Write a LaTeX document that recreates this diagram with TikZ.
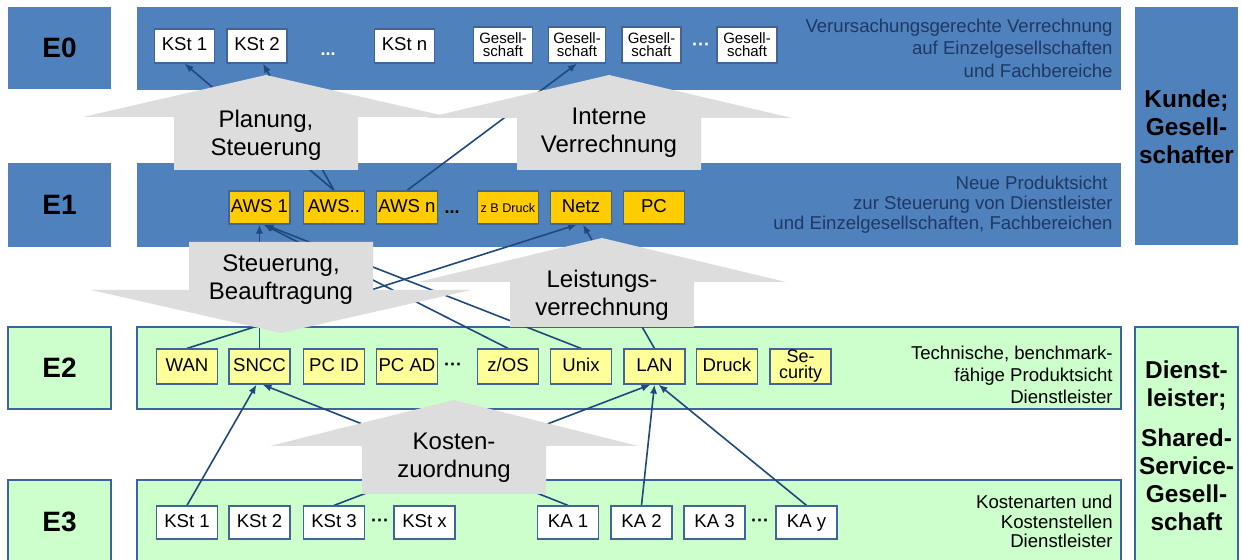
\documentclass[tikz,border=0pt]{standalone}
\usepackage{fontspec}
\setmainfont{Liberation Sans}
\usetikzlibrary{arrows.meta}
\pgfdeclarelayer{bg}
\pgfdeclarelayer{lines}
\pgfdeclarelayer{arrows}
\pgfsetlayers{bg,lines,arrows,main}
\definecolor{bandblue}{HTML}{4F81BD}
\definecolor{navy}{HTML}{1F3864}
\definecolor{lgreen}{HTML}{CCFFCC}
\definecolor{gborder}{HTML}{3C64A0}
\definecolor{boxborder}{HTML}{41649B}
\definecolor{gold}{HTML}{FFCC00}
\definecolor{lyellow}{HTML}{FFFF99}
\definecolor{arrowgrey}{HTML}{DDDDDD}
\definecolor{connblue}{HTML}{1F497D}
\begin{document}
\begin{tikzpicture}[x=0.5pt,y=-0.5pt,
  band/.style={fill=bandblue},
  gband/.style={fill=lgreen,draw=gborder,line width=0.9pt},
  lbl/.style={font=\bfseries\fontsize{14}{16}\selectfont,inner sep=0pt,minimum width=51.5pt},
  rlab/.style={font=\bfseries\fontsize{12.2}{14}\selectfont,align=center,inner sep=0pt},
  bx/.style={draw=boxborder,line width=0.6pt,minimum width=30.5pt,minimum height=17pt,inner sep=0pt,
    font=\fontsize{9.3}{10}\selectfont,text height=6.6pt,text depth=1.9pt},
  wbox/.style={bx,fill=white},
  ybox/.style={bx,fill=gold,minimum height=16.5pt},
  lybox/.style={bx,fill=lyellow,minimum height=17.5pt},
  two/.style={align=center,text height=,text depth=},
  dotsn/.style={font=\bfseries\fontsize{9}{10}\selectfont,inner sep=0pt,text height=6.5pt,text depth=1.9pt},
  conn/.style={draw=connblue,line width=0.8pt,-{Latex[length=4.5pt,width=3.6pt]}},
  garrow/.style={fill=arrowgrey},
  gtext/.style={font=\fontsize{12}{14}\selectfont,align=center,inner sep=0pt},
  desc/.style={anchor=east,align=right,inner sep=0pt,font=\fontsize{9.3}{11.2}\selectfont}]
\useasboundingbox (0,0) rectangle (1242,560);

% ---------- bands ----------
\begin{pgfonlayer}{bg}
\fill[white] (0,0) rectangle (1242,560);
\path[band] (8,7) rectangle (111,89);
\path[band] (8,163) rectangle (111,247);
\path[gband] (8,327) rectangle (111,409);
\path[gband] (8,480) rectangle (111,566);
\path[band] (137,7) rectangle (1121,90);
\path[band] (137,163) rectangle (1121,247);
\path[gband] (137,327) rectangle (1121,409);
\path[gband] (137,480) rectangle (1121,566);
\path[band] (1135,7) rectangle (1238,245);
\path[gband] (1135,327) rectangle (1238,566);
\end{pgfonlayer}

\node[lbl] (e0) at (59.5,48) {E0};
\node[lbl] (e1) at (59.5,205) {E1};
\node[lbl] (e2) at (59.5,368) {E2};
\node[lbl] (e3) at (59.5,522) {E3};

\node[rlab] (kunde) at (1186.5,127) {Kunde;\\Gesell-\\schafter};
\node[rlab] (dl1) at (1186.5,386) {Dienst-\\leister;};
\node[rlab] (dl2) at (1186.5,480) {Shared-\\Service-\\Gesell-\\schaft};

% ---------- descriptions ----------
\node[desc,text=navy] (d0) at (1113,48) {Verursachungsgerechte Verrechnung\\auf Einzelgesellschaften\\und Fachbereiche};
\node[desc,text=navy,font=\fontsize{9.3}{10}\selectfont] (d1) at (1113,205) {Neue Produktsicht\hspace*{2.5pt}\\zur Steuerung von Dienstleister\\und Einzelgesellschaften, Fachbereichen};
\node[desc,font=\fontsize{9.3}{11}\selectfont] (d2) at (1113,375) {Technische, benchmark-\\fähige Produktsicht\\Dienstleister};
\node[desc,font=\fontsize{9.3}{9.8}\selectfont] (d3) at (1113,521.5) {Kostenarten und\\Kostenstellen\\Dienstleister};

% ---------- E0 boxes ----------
\node[wbox,minimum width=30pt] (k01) at (184.5,46) {KSt 1};
\node[wbox,minimum width=30pt] (k02) at (257,46) {KSt 2};
\node[dotsn,text=white] (dd01) at (328,51) {...};
\node[wbox,minimum width=30pt] (k0n) at (404.5,46) {KSt n};
\node[wbox,two,minimum width=29.5pt,minimum height=18pt,font=\fontsize{7.5}{6.6}\selectfont] (g1) at (503,45) {Gesell-\\schaft};
\node[wbox,two,minimum width=28.5pt,minimum height=18pt,font=\fontsize{7.5}{6.6}\selectfont] (g2) at (577,45) {Gesell-\\schaft};
\node[wbox,two,minimum width=29.5pt,minimum height=18pt,font=\fontsize{7.5}{6.6}\selectfont] (g3) at (651.5,45) {Gesell-\\schaft};
\node[dotsn,text=white,text height=,text depth=] (dd02) at (701,47) {···};
\node[wbox,two,minimum width=30pt,minimum height=18pt,font=\fontsize{7.5}{6.6}\selectfont] (g4) at (747,45) {Gesell-\\schaft};

% ---------- E1 boxes ----------
\node[ybox] (aws1) at (259.5,207.5) {AWS 1};
\node[ybox] (aws2) at (334,207.5) {AWS..};
\node[ybox] (awsn) at (407,207.5) {AWS n};
\node[dotsn] (dd1) at (452,209) {...};
\node[ybox,font=\fontsize{6.3}{7}\selectfont] (zbd) at (508,207.5) {z B Druck};
\node[ybox] (netz) at (581,207.5) {Netz};
\node[ybox] (pc) at (654,207.5) {PC};

% ---------- E2 boxes ----------
\node[lybox] (wan) at (187,366.5) {WAN};
\node[lybox] (sncc) at (259.5,366.5) {SNCC};
\node[lybox] (pcid) at (334,366.5) {PC ID};
\node[lybox] (pcad) at (407,366.5) {PC AD};
\node[dotsn,text height=,text depth=] (dd2) at (453,366.5) {···};
\node[lybox] (zos) at (508,366.5) {z/OS};
\node[lybox] (unix) at (581,366.5) {Unix};
\node[lybox] (lan) at (654.5,366.5) {LAN};
\node[lybox] (druck) at (727,366.5) {Druck};
\node[lybox,two,font=\fontsize{9}{8}\selectfont] (secu) at (800.5,366.5) {Se-\\curity};

% ---------- E3 boxes ----------
\node[wbox,minimum height=16.5pt] (s1) at (187,522.5) {KSt 1};
\node[wbox,minimum height=16.5pt] (s2) at (259.5,522.5) {KSt 2};
\node[wbox,minimum height=16.5pt] (s3) at (334,522.5) {KSt 3};
\node[dotsn,text height=,text depth=] (dd3) at (380,522.5) {···};
\node[wbox,minimum height=16.5pt] (sx) at (424.5,522.5) {KSt x};
\node[wbox,minimum height=16.5pt] (ka1) at (568,522.5) {KA 1};
\node[wbox,minimum height=16.5pt] (ka2) at (641.5,522.5) {KA 2};
\node[wbox,minimum height=16.5pt] (ka3) at (714.5,522.5) {KA 3};
\node[dotsn,text height=,text depth=] (dd4) at (760,522.5) {···};
\node[wbox,minimum height=16.5pt] (kay) at (806.5,522.5) {KA y};

% ---------- connectors ----------
\begin{pgfonlayer}{lines}
\draw[conn] (aws2.north) -- (k01.south);
\draw[conn] (aws2.north) -- ([xshift=3pt]k02.south);
\draw[conn] (awsn.north) -- (g2.south);
\draw[conn] (sncc.north) -- (aws1.south);
\draw[conn] (zos.north) -- ([xshift=2pt]aws1.south);
\draw[conn] (unix.north) -- ([xshift=2.5pt]aws1.south);
\draw[conn] (wan.north) -- ([xshift=-2pt]netz.south);
\draw[conn] (lan.north) -- ([xshift=1pt]netz.south);
\draw[conn] (s1.north) -- ([xshift=-1.5pt]sncc.south);
\draw[conn] (ka1.north) -- ([xshift=1.5pt]sncc.south);
\draw[conn] (s3.north) -- ([xshift=-2pt]lan.south);
\draw[conn] (ka2.north) -- (lan.south);
\draw[conn] (kay.north) -- ([xshift=2pt]lan.south);
\end{pgfonlayer}

% ---------- grey block arrows ----------
\begin{pgfonlayer}{arrows}
\fill[garrow] (174,170) -- (174,117) -- (83,117) -- (266,75) -- (449,117) -- (358,117) -- (358,170) -- cycle;
\fill[garrow] (517,170) -- (517,118) -- (426,118) -- (609,75) -- (792,118) -- (701,118) -- (701,170) -- cycle;
\fill[garrow] (189,242) -- (373,242) -- (373,290) -- (471,290) -- (281,333) -- (91,290) -- (189,290) -- cycle;
\fill[garrow] (510,327) -- (510,282) -- (418,282) -- (602,238) -- (786,282) -- (694,282) -- (694,327) -- cycle;
\fill[garrow] (362,494) -- (362,446) -- (270,446) -- (454,400) -- (638,446) -- (546,446) -- (546,494) -- cycle;
\end{pgfonlayer}

\node[gtext] (t1) at (266,135) {Planung,\\Steuerung};
\node[gtext] (t2) at (609,133) {Interne\\Verrechnung};
\node[gtext] (t3) at (281,280) {Steuerung,\\Beauftragung};
\node[gtext] (t4) at (602,295) {Leistungs-\\verrechnung};
\node[gtext] (t5) at (454,458) {Kosten-\\zuordnung};
\end{tikzpicture}
\end{document}
